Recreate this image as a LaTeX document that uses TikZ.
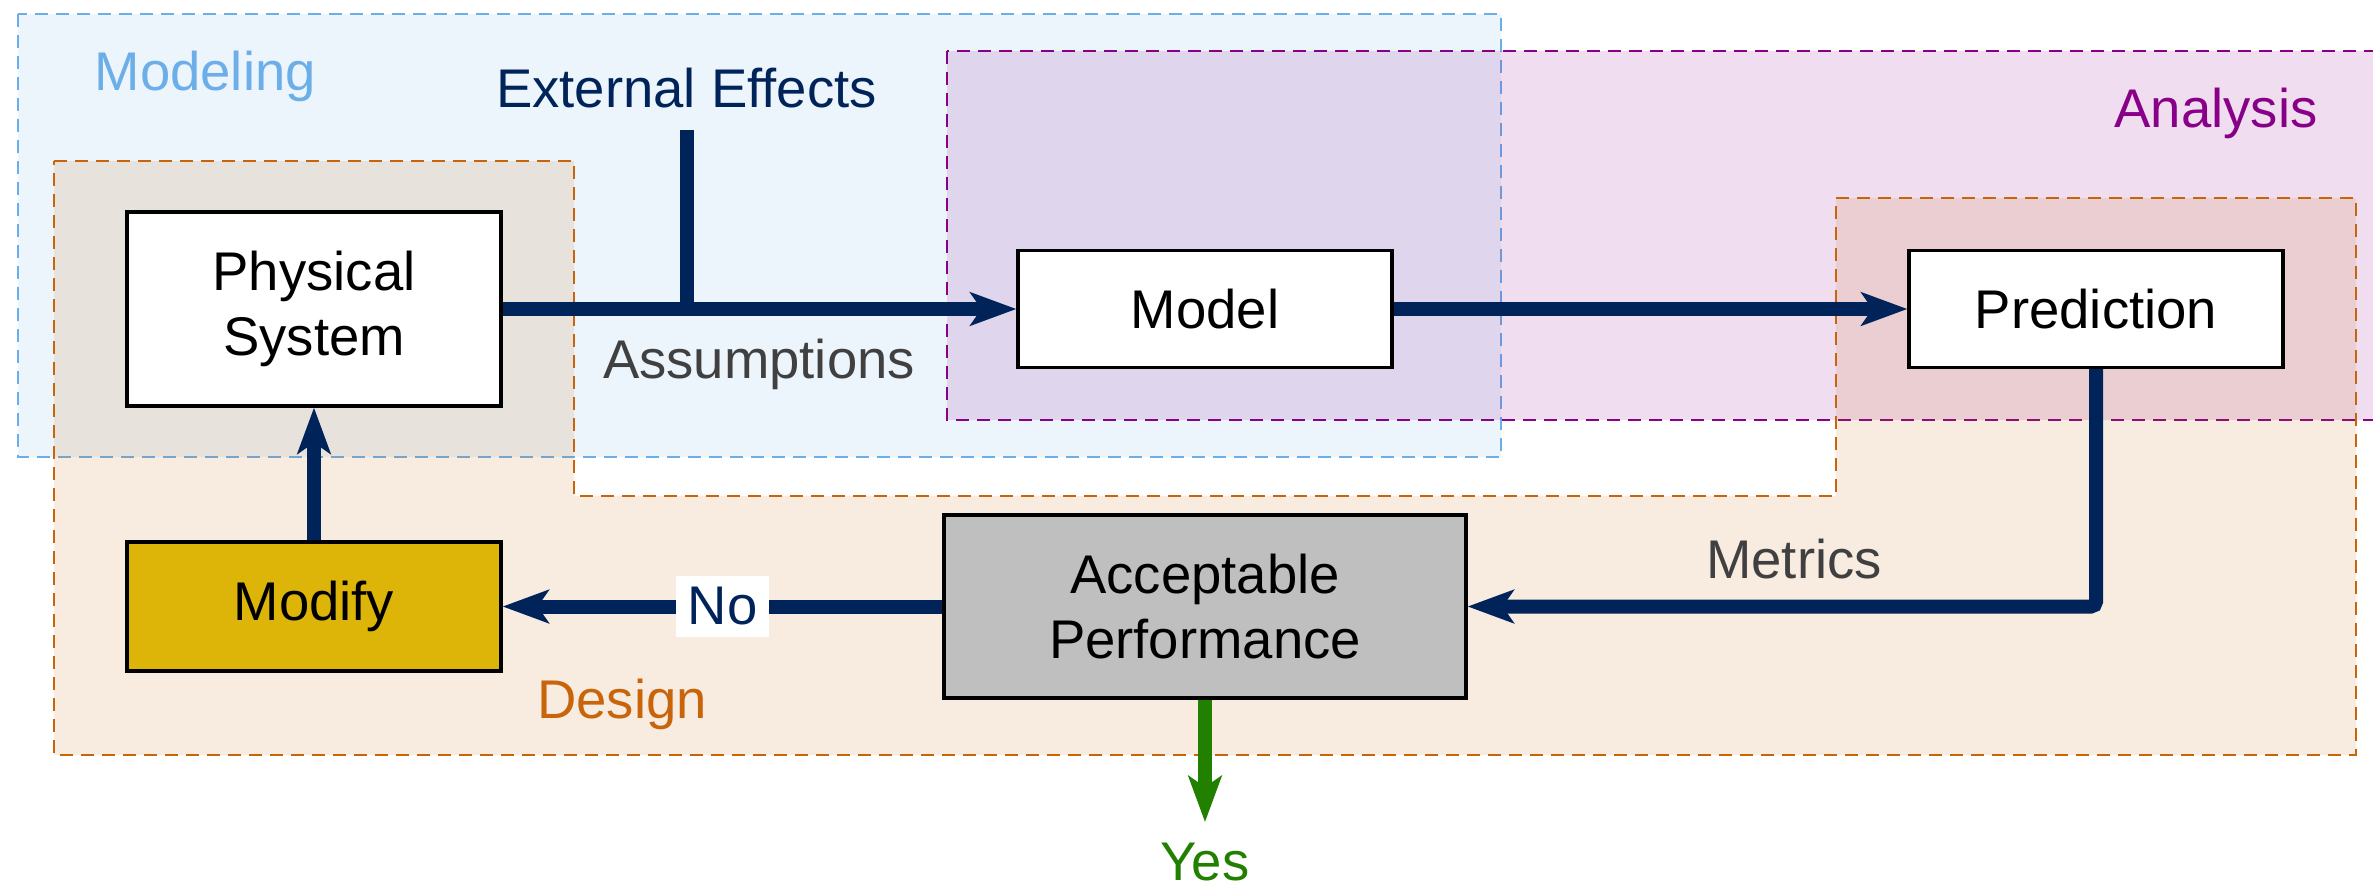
\documentclass[tikz,border=0pt]{standalone}
\usepackage{fontspec}
\setmainfont{Liberation Sans}
\usetikzlibrary{arrows.meta}
\definecolor{navy}{RGB}{0,36,90}
\definecolor{modblue}{RGB}{108,174,232}
\definecolor{anapurple}{RGB}{136,0,136}
\definecolor{desorange}{RGB}{200,100,10}
\definecolor{labelgray}{RGB}{64,64,64}
\definecolor{yesgreen}{RGB}{34,128,0}
\definecolor{modgold}{RGB}{221,180,8}
\definecolor{accgray}{RGB}{191,191,191}

\begin{document}
\begin{tikzpicture}[
    every node/.style={font=\fontsize{15.5}{18.6}\selectfont},
    region/.style={dash pattern=on 0.13cm off 0.08cm, line width=0.6pt, fill opacity=0.13, draw opacity=1},
    block/.style={draw=black, line width=0.9pt, fill=white, align=center, minimum width=3.74cm},
    flow/.style={draw=navy, line width=0.14cm, -{Stealth[length=0.46cm, width=0.33cm, inset=0.11cm]}},
    nolabel/.style={fill=white, text=navy}
  ]
  \clip (0,0) rectangle (23.73,-8.88);
  % Regions
  \filldraw[region, draw=modblue, fill=modblue] (0.18,-0.14) rectangle (15.01,-4.57);
  \filldraw[region, draw=anapurple, fill=anapurple] (9.47,-0.51) rectangle (23.85,-4.20);
  \filldraw[region, draw=desorange, fill=desorange]
    (0.54,-1.61) -- (5.74,-1.61) -- (5.74,-4.96) -- (18.36,-4.96) -- (18.36,-1.98)
    -- (23.56,-1.98) -- (23.56,-7.55) -- (0.54,-7.55) -- cycle;
  \node[anchor=base west, text=modblue, inner sep=0pt] (modeling) at (0.94,-0.90) {Modeling};
  \node[anchor=base, text=anapurple] (analysis) at (22.16,-1.27) {Analysis};
  \node[anchor=base, text=desorange] (design) at (6.22,-7.18) {Design};
  % Blocks
  \node[block, minimum height=1.94cm] (ps) at (3.14,-3.09) {Physical\\System};
  \node[block, minimum height=1.17cm] (model) at (12.05,-3.09) {Model};
  \node[block, minimum height=1.17cm] (pred) at (20.96,-3.09) {Prediction};
  \node[block, fill=modgold, minimum height=1.29cm] (mod) at (3.14,-6.065) {Modify};
  \node[block, fill=accgray, minimum width=5.22cm, minimum height=1.83cm] (acc) at (12.05,-6.065) {Acceptable\\Performance};
  % Texts
  \node[anchor=base, text=navy] (ext) at (6.865,-1.07) {External Effects};
  \node[anchor=base, text=labelgray] (assume) at (7.59,-3.78) {Assumptions};
  \node[anchor=base, text=labelgray] (metrics) at (17.94,-5.78) {Metrics};
  \node[anchor=base, text=yesgreen] (yes) at (12.05,-8.80) {Yes};
  % Connectors
  \draw[flow, -, shorten <=0.1cm] (ext.south) -- (ext.south |- ps.east);
  \draw[flow] (ps) -- (model);
  \draw[flow] (model) -- (pred);
  \draw[flow, rounded corners=0.05cm] (pred.south) |- (acc.east);
  \draw[flow] (acc) -- node[nolabel] (no) {No} (mod);
  \draw[flow] (mod) -- (ps);
  \draw[flow, draw=yesgreen, fill=yesgreen, shorten >=0.08cm] (acc) -- (yes);
\end{tikzpicture}
\end{document}
